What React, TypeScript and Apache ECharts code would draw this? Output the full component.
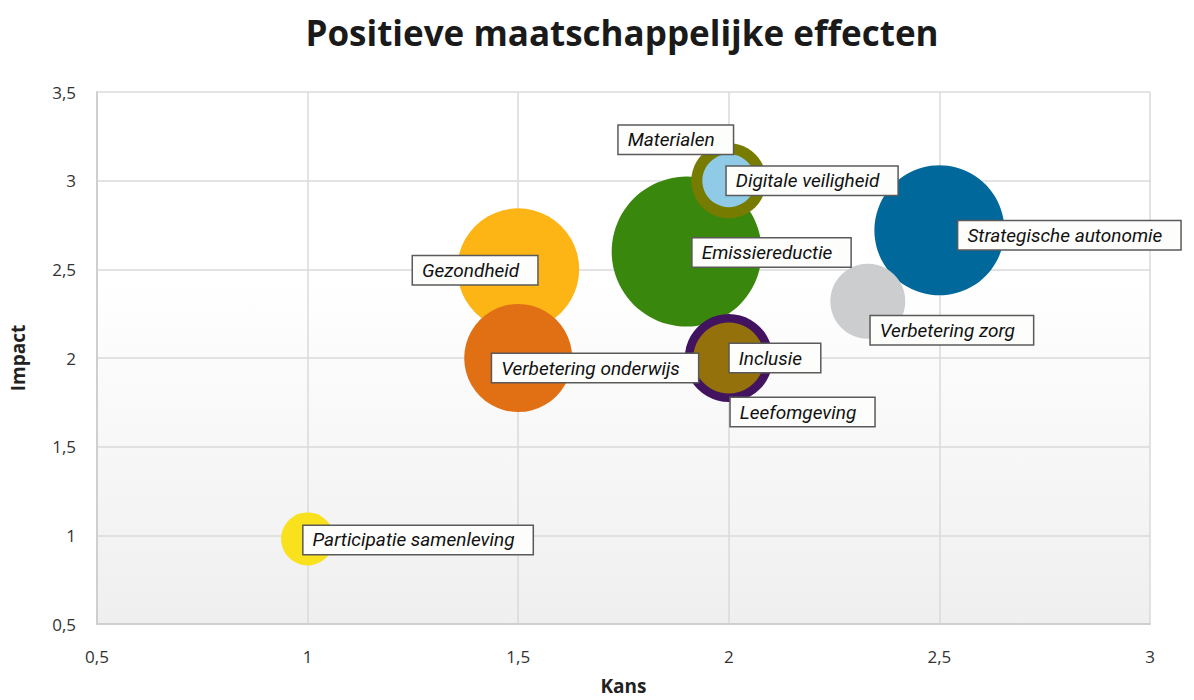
import React, { useEffect, useRef } from "react";
import * as echarts from "echarts";

const names = [
  "Gezondheid",
  "Verbetering onderwijs",
  "Emissiereductie",
  "Materialen",
  "Digitale veiligheid",
  "Strategische autonomie",
  "Verbetering zorg",
  "Leefomgeving",
  "Inclusie",
  "Participatie samenleving",
];
const kans = [1.5, 1.5, 1.9, 2.0, 2.0, 2.5, 2.33, 2.0, 2.0, 1.0];
const impact = [2.5, 2.0, 2.6, 3.0, 3.0, 2.72, 2.32, 2.0, 2.0, 0.98];
const bubbleSize = [122, 108, 150, 75, 53, 130, 75, 88, 71, 53];
const colors = [
  "#FDB515",
  "#E17014",
  "#39870C",
  "#777C00",
  "#8FCAE6",
  "#01689B",
  "#CCCDCF",
  "#42145F",
  "#94710A",
  "#F9E11E",
];
const xTicks = [0.5, 1, 1.5, 2, 2.5, 3];
const yTicks = [0.5, 1, 1.5, 2, 2.5, 3, 3.5];

// label placement relative to bubble centre: [align, dx, dy]
const labelPlacement: Record<string, [string, number, number]> = {
  Gezondheid: ["right", 19, 1],
  "Verbetering onderwijs": ["left", -26, 10],
  Emissiereductie: ["left", 6, 1],
  Materialen: ["right", 4, -41],
  "Digitale veiligheid": ["left", -2, 0],
  "Strategische autonomie": ["left", 19, 5],
  "Verbetering zorg": ["left", 3, 29],
  Leefomgeving: ["left", 2, 54],
  Inclusie: ["left", 1, 0],
  "Participatie samenleving": ["left", -4, 1],
};

const fmt = (v: number) => String(v).replace(".", ",");

export default function App() {
  const ref = useRef<HTMLDivElement>(null);
  useEffect(() => {
    if (!ref.current) return;
    const chart = echarts.init(ref.current, undefined, { renderer: "svg" });
    const bubbles = names.map((n, i) => ({
      name: n,
      value: [kans[i], impact[i], bubbleSize[i]],
      itemStyle: { color: colors[i], opacity: 1 },
    }));
    const labels = names.map((n, i) => {
      const p = labelPlacement[n];
      return {
        name: n,
        value: [kans[i], impact[i]],
        label: {
          show: true,
          position: "inside",
          align: p[0],
          verticalAlign: "middle",
          offset: [p[1], p[2]],
          formatter: n,
        },
      };
    });
    chart.setOption({
      animation: false,
      backgroundColor: "#ffffff",
      title: {
        text: "Positieve maatschappelijke effecten",
        left: 617,
        textAlign: "center",
        top: 10,
        textStyle: {
          fontFamily: "Open Sans",
          fontWeight: "bold",
          fontSize: 35,
          color: "#1a1a1a",
        },
      },
      grid: {
        left: 97,
        right: 44,
        top: 92,
        bottom: 74,
        show: true,
        borderWidth: 0,
        borderColor: "transparent",
        backgroundColor: new echarts.graphic.LinearGradient(0, 0, 0, 1, [
          { offset: 0, color: "#ffffff" },
          { offset: 0.35, color: "#ffffff" },
          { offset: 1, color: "#efefef" },
        ]),
      },
      xAxis: {
        type: "value",
        min: xTicks[0],
        max: xTicks[xTicks.length - 1],
        interval: 0.5,
        name: "Kans",
        nameLocation: "middle",
        nameGap: 52,
        nameTextStyle: {
          fontFamily: "Open Sans",
          fontWeight: "bold",
          fontSize: 19,
          color: "#222",
        },
        axisLine: { show: true, lineStyle: { color: "#cfcfcf", width: 2 } },
        axisTick: { show: false },
        axisLabel: {
          formatter: fmt,
          margin: 24,
          fontFamily: "Open Sans",
          fontSize: 17,
          color: "#333",
        },
        splitLine: { show: true, lineStyle: { color: "#dadada", width: 1.5 } },
      },
      yAxis: {
        type: "value",
        min: yTicks[0],
        max: yTicks[yTicks.length - 1],
        interval: 0.5,
        name: "Impact",
        nameLocation: "middle",
        nameGap: 70,
        nameTextStyle: {
          fontFamily: "Open Sans",
          fontWeight: "bold",
          fontSize: 19,
          color: "#222",
        },
        axisLine: { show: true, lineStyle: { color: "#cfcfcf", width: 2 } },
        axisTick: { show: false },
        axisLabel: {
          formatter: fmt,
          margin: 21,
          fontFamily: "Open Sans",
          fontSize: 17,
          color: "#333",
        },
        splitLine: { show: true, lineStyle: { color: "#dadada", width: 1.5 } },
      },
      series: [
        {
          type: "scatter",
          data: bubbles,
          symbolSize: (v: number[]) => v[2],
          z: 2,
          emphasis: { disabled: true },
        },
        {
          type: "scatter",
          data: labels,
          symbolSize: 1,
          itemStyle: { color: "rgba(0,0,0,0)", opacity: 1 },
          z: 10,
          emphasis: { disabled: true },
          label: {
            show: true,
            fontFamily: "Roboto",
            fontStyle: "italic",
            fontSize: 19,
            color: "#111",
            backgroundColor: "#fdfdfb",
            borderColor: "#5a5a5a",
            borderWidth: 1.5,
            padding: [5, 18, 4, 9],
          },
        },
      ],
    });
    return () => chart.dispose();
  }, []);
  return (
    <div
      ref={ref}
      style={{ position: "fixed", left: 0, top: 0, width: 1194, height: 700 }}
    />
  );
}
